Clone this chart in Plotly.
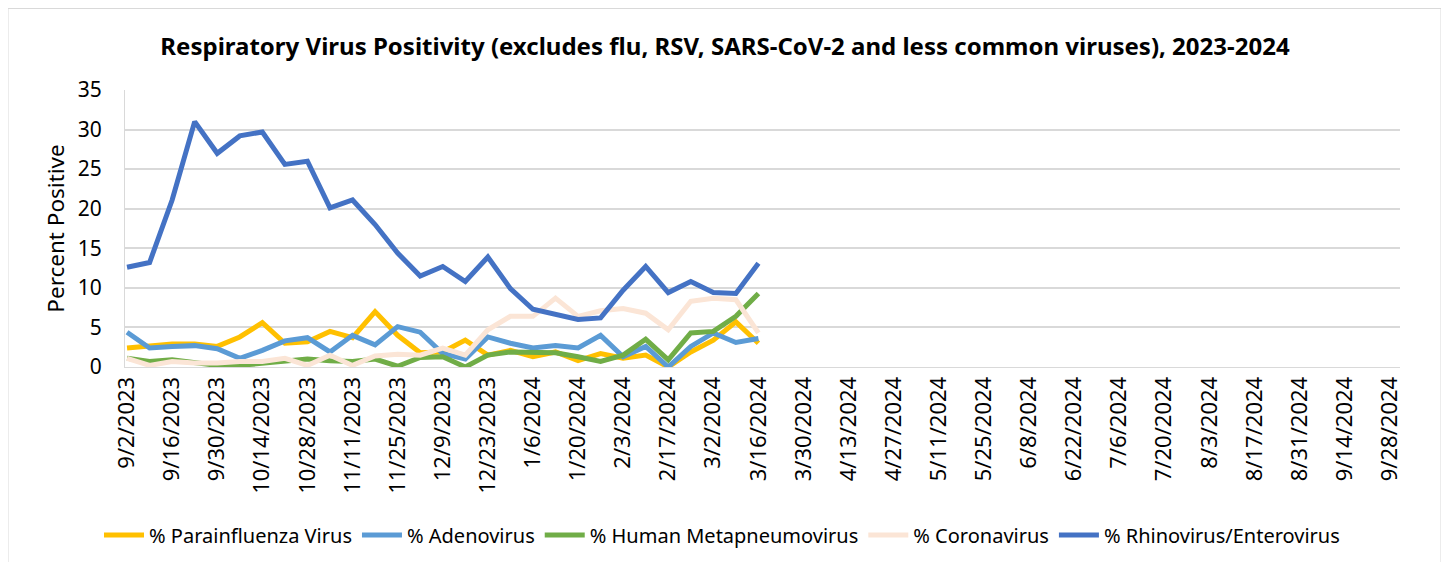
import plotly.graph_objects as go
import datetime as dt

start = dt.date(2023, 9, 2)
weeks = [start + dt.timedelta(weeks=i) for i in range(57)]
dates = [f"{d.month}/{d.day}/{d.year}" for d in weeks]

parainfluenza = [2.4, 2.6, 2.9, 2.9, 2.6, 3.8, 5.6, 3.0, 3.2, 4.5, 3.7, 7.0, 4.0, 1.8,
                 1.9, 3.4, 1.5, 2.1, 1.3, 1.9, 0.8, 1.7, 1.1, 1.5, 0.0, 1.9, 3.4, 5.7, 3.0]
adenovirus = [4.4, 2.4, 2.6, 2.7, 2.3, 1.1, 2.1, 3.3, 3.7, 1.9, 4.0, 2.8, 5.1, 4.4,
              1.7, 1.0, 3.8, 3.0, 2.4, 2.7, 2.4, 4.0, 1.3, 2.6, 0.0, 2.6, 4.3, 3.1, 3.6]
hmpv = [1.1, 0.7, 0.9, 0.5, 0.2, 0.2, 0.5, 0.8, 1.0, 0.8, 0.7, 1.0, 0.1, 1.2,
        1.3, 0.0, 1.5, 1.9, 1.8, 1.8, 1.3, 0.7, 1.5, 3.5, 0.9, 4.3, 4.5, 6.4, 9.3]
coronavirus = [1.1, 0.2, 0.7, 0.5, 0.5, 0.7, 0.7, 1.1, 0.2, 1.5, 0.2, 1.4, 1.6, 1.5,
               2.4, 1.5, 4.7, 6.4, 6.4, 8.7, 6.4, 7.1, 7.4, 6.8, 4.7, 8.3, 8.7, 8.5, 4.3]
rhino = [12.6, 13.2, 21.1, 31.0, 27.0, 29.2, 29.7, 25.6, 26.0, 20.1, 21.1, 18.0, 14.4, 11.5,
         12.7, 10.8, 13.9, 9.9, 7.3, 6.6, 6.0, 6.2, 9.7, 12.7, 9.4, 10.8, 9.4, 9.3, 13.1]

series = [
    ("% Parainfluenza Virus", parainfluenza, "#FFC000"),
    ("% Adenovirus", adenovirus, "#5B9BD5"),
    ("% Human Metapneumovirus", hmpv, "#70AD47"),
    ("% Coronavirus", coronavirus, "#FBE5D6"),
    ("% Rhinovirus/Enterovirus", rhino, "#4472C4"),
]

FONT = "Noto Sans, Open Sans, sans-serif"

fig = go.Figure()
for name, vals, color in series:
    fig.add_trace(go.Scatter(
        x=list(range(len(vals))), y=vals, name=name, mode="lines",
        line=dict(color=color, width=5),
    ))

# page has an 8px body margin; figure coordinates are page coordinates minus 8
W, H = 1441, 554
L, R, T, B = 117, 49, 82, 195
PW, PH = W - L - R, H - T - B

fig.update_layout(
    width=W, height=H,
    margin=dict(l=L, r=R, t=T, b=B, autoexpand=False),
    paper_bgcolor="white", plot_bgcolor="white",
    font=dict(family=FONT, color="black", size=20),
    title=dict(text="<b>Respiratory Virus Positivity (excludes flu, RSV, SARS-CoV-2 and less common viruses), 2023-2024</b>",
               x=(725 - 8) / W, xanchor="center", y=1 - 39 / H, yanchor="middle",
               font=dict(size=24, family=FONT)),
    showlegend=True,
    legend=dict(orientation="h", x=(722 - 8 - L) / PW, xanchor="center",
                y=(H - B - (535 - 8)) / PH, yanchor="middle",
                font=dict(size=20, family=FONT), itemwidth=40, traceorder="normal"),
    xaxis=dict(
        range=[-0.09, 56.45],
        tickmode="array",
        tickvals=list(range(0, 57, 2)),
        ticktext=dates[0::2],
        tickangle=-90,
        tickfont=dict(size=22, family=FONT),
        showgrid=False, zeroline=False,
        showline=True, linecolor="#d9d9d9", linewidth=1,
        ticks="",
    ),
    yaxis=dict(
        range=[0, 35], dtick=5,
        showgrid=True, gridcolor="#d9d9d9", gridwidth=1.5,
        zeroline=False, showline=True, linecolor="#d9d9d9", linewidth=1,
        tickfont=dict(size=21, family=FONT),
        ticklabelstandoff=18,
        title=dict(text="Percent Positive", font=dict(size=22.5, family=FONT), standoff=6),
        ticks="", ticklen=0,
    ),
)

fig.add_shape(type="rect", xref="paper", yref="paper",
              x0=(0 - L) / PW, x1=(1433 - L) / PW,
              y0=(H - B - (H + 10)) / PH, y1=(H - B - 0.5) / PH,
              line=dict(color="#d9d9d9", width=1), fillcolor="rgba(0,0,0,0)", layer="below")

fig.write_html("out.html")
